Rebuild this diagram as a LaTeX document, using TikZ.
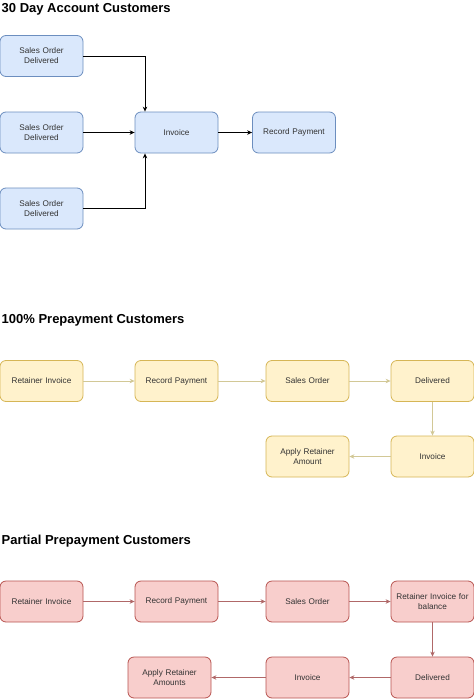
\documentclass[tikz,border=0pt]{standalone}
\usepackage{fontspec}
\setmainfont{Liberation Sans}
\usetikzlibrary{arrows.meta}
\definecolor{bfill}{HTML}{DAE8FC}
\definecolor{bline}{HTML}{6C8EBF}
\definecolor{yfill}{HTML}{FFF2CC}
\definecolor{yline}{HTML}{D6B656}
\definecolor{yarrow}{HTML}{D2C896}
\definecolor{rfill}{HTML}{F8CECC}
\definecolor{rline}{HTML}{B85450}
\definecolor{rarrow}{HTML}{B06868}
\definecolor{txt}{HTML}{333333}
\begin{document}
\begin{tikzpicture}[x=1pt,y=-1pt,
  box/.style={rounded corners=6pt,minimum width=83pt,minimum height=41pt,inner sep=1pt,
    align=center,text width=80pt,font=\fontsize{8.2}{10}\selectfont,text=txt,line width=0.8pt},
  bluebox/.style={box,fill=bfill,draw=bline},
  yelbox/.style={box,fill=yfill,draw=yline},
  redbox/.style={box,fill=rfill,draw=rline},
  title/.style={anchor=base west,inner sep=0pt,font=\fontsize{13}{15}\bfseries\selectfont},
  arr/.style={line width=0.8pt,-{Stealth[length=5pt,width=4.5pt]}},
  barr/.style={arr,draw=black},
  yarr/.style={arr,draw=yarrow},
  rarr/.style={arr,draw=rarrow}]
\useasboundingbox (0,0) rectangle (474,699);
\fill[white] (0,0) rectangle (474,699);
% Section 1
\node[title] (t1) at (1.5,12.5) {30 Day Account Customers};
\node[bluebox] (s1) at (41.5,56) {Sales Order\\Delivered};
\node[bluebox] (s2) at (41.5,132.5) {Sales Order\\Delivered};
\node[bluebox] (s3) at (41.5,208.5) {Sales Order\\Delivered};
\node[bluebox] (inv) at (176.5,132.5) {Invoice};
\node[bluebox] (rp) at (294,132.5) {Record Payment};
\draw[barr] (s1.east) -| ([xshift=-31.5pt]inv.north);
\draw[barr] (s2.east) -- (inv.west);
\draw[barr] (s3.east) -| ([xshift=-31.5pt]inv.south);
\draw[barr] (inv.east) -- (rp.west);
% Section 2
\node[title] (t2) at (1.5,323) {100\% Prepayment Customers};
\node[yelbox] (y1) at (41.5,381) {Retainer Invoice};
\node[yelbox] (y2) at (176.5,381) {Record Payment};
\node[yelbox] (y3) at (307.5,381) {Sales Order};
\node[yelbox] (y4) at (432.5,381) {Delivered};
\node[yelbox] (y5) at (432.5,456.5) {Invoice};
\node[yelbox] (y6) at (307.5,456.5) {Apply Retainer\\Amount};
\draw[yarr] (y1) -- (y2);
\draw[yarr] (y2) -- (y3);
\draw[yarr] (y3) -- (y4);
\draw[yarr] (y4) -- (y5);
\draw[yarr] (y5) -- (y6);
% Section 3
\node[title] (t3) at (1.5,544) {Partial Prepayment Customers};
\node[redbox] (r1) at (41.5,601.5) {Retainer Invoice};
\node[redbox] (r2) at (176.5,601.5) {Record Payment};
\node[redbox] (r3) at (307.5,601.5) {Sales Order};
\node[redbox] (r4) at (432.5,601.5) {Retainer Invoice for\\balance};
\node[redbox] (r5) at (432.5,677.5) {Delivered};
\node[redbox] (r6) at (307.5,677.5) {Invoice};
\node[redbox] (r7) at (169.5,677.5) {Apply Retainer\\Amounts};
\draw[rarr] (r1) -- (r2);
\draw[rarr] (r2) -- (r3);
\draw[rarr] (r3) -- (r4);
\draw[rarr] (r4) -- (r5);
\draw[rarr] (r5) -- (r6);
\draw[rarr] (r6) -- (r7);
\end{tikzpicture}
\end{document}
